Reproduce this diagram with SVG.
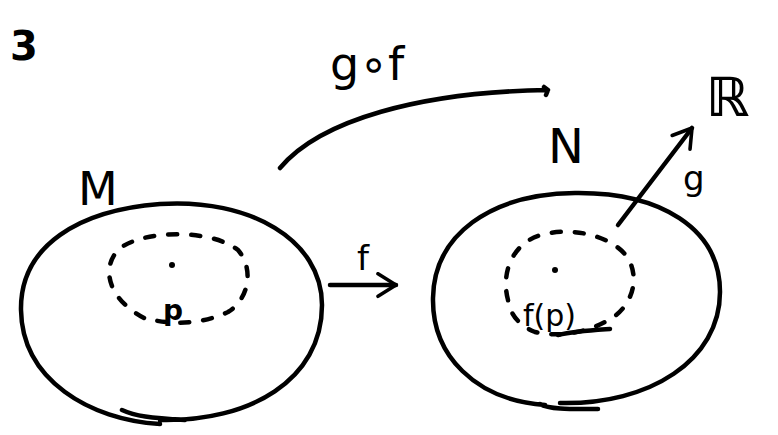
<svg xmlns="http://www.w3.org/2000/svg" width="778" height="435" viewBox="0 0 778 435">
<style>
.s{fill:none;stroke:#000;stroke-width:4.5;stroke-linecap:round;stroke-linejoin:round}
.d{fill:none;stroke:#000;stroke-width:4.5;stroke-linecap:round;stroke-dasharray:9 14}
.t{font-family:"DejaVu Sans","Liberation Sans",sans-serif;fill:#000}
</style>
<defs>
<marker id="ah" viewBox="0 0 12 12" refX="9" refY="6" markerWidth="6" markerHeight="6" orient="auto" markerUnits="strokeWidth">
<path d="M1,1 L9,6 L1,11" fill="none" stroke="#000" stroke-width="1.6" stroke-linecap="round" stroke-linejoin="round"/>
</marker>
</defs>
<rect width="778" height="435" fill="#fff"/>
<text class="t" x="10" y="60" font-size="40" font-weight="bold">3</text>
<g id="M">
<path class="s" d="M160,424 C90,420 22,380 21,310 C20,245 80,210 160,204 C250,198 322,240 322,305 C322,380 250,422 160,420 M122,410 C135,416 150,418 185,420"/>
<path class="d" d="M144,318 C110,300 100,270 118,250 C140,230 210,228 238,250 C255,270 248,300 228,312 C200,325 170,325 144,318"/>
<circle cx="172" cy="265" r="3"/>
<text class="t" x="78" y="205" font-size="46">M</text>
<text class="t" x="163" y="320" font-size="28" font-weight="bold">p</text>
</g>
<g id="N">
<path class="s" d="M545,405 C475,400 432,355 433,298 C434,235 490,194 575,193 C660,192 720,228 720,292 C720,360 650,405 560,403 M540,404 C550,410 575,409 598,409"/>
<path class="d" d="M508,300 C500,270 515,240 545,234 C580,226 620,240 630,262 C640,285 628,308 612,318 C590,332 560,338 535,332 C520,326 510,315 508,300"/>
<circle cx="555" cy="270" r="3"/>
<text class="t" x="548" y="163" font-size="48">N</text>
<text class="t" x="523" y="326" font-size="30">f(p)</text>
<path class="s" d="M558,335 C575,331 595,330 610,329"/>
</g>
<g id="R">
<text class="t" x="706" y="116" font-size="54" font-weight="bold">ℝ</text>
</g>
<g id="connectors">
<path class="s" d="M330,285 L396,285" marker-end="url(#ah)"/>
<text class="t" x="357" y="270" font-size="34">f</text>
<path class="s" d="M618,225 L692,128" marker-end="url(#ah)"/>
<text class="t" x="683" y="190" font-size="34">g</text>
<path class="s" d="M280,168 C320,120 420,92 548,90 L544,87 M548,90 L546,95"/>
<text class="t" x="330" y="80" font-size="46">g∘f</text>
</g>
</svg>
